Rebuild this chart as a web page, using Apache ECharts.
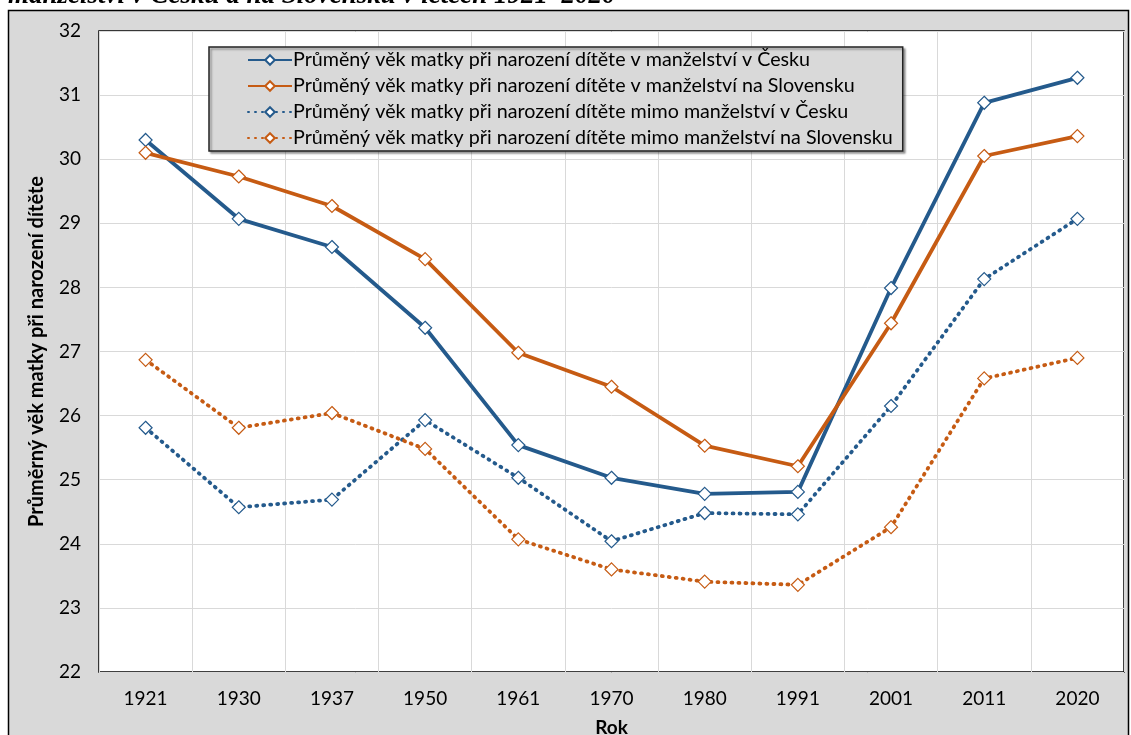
<!DOCTYPE html>
<html>
<head>
<meta charset="utf-8">
<script src="https://cdn.jsdelivr.net/npm/echarts@6/dist/echarts.min.js"></script>
<style>
  html, body { margin: 0; padding: 0; background: #fff; }
  #chart { width: 1131px; height: 735px; }
</style>
</head>
<body>
<div id="chart"></div>
<script>
// roky (kategorie osy x)
const years = ['1921', '1930', '1937', '1950', '1961', '1970', '1980', '1991', '2001', '2011', '2020'];

// průměrný věk matky při narození dítěte
const czMarried   = [30.30, 29.07, 28.63, 27.37, 25.54, 25.03, 24.78, 24.81, 27.99, 30.88, 31.27];
const skMarried   = [30.10, 29.73, 29.27, 28.44, 26.98, 26.45, 25.53, 25.21, 27.44, 30.05, 30.36];
const czUnmarried = [25.81, 24.57, 24.69, 25.93, 25.03, 24.04, 24.48, 24.46, 26.15, 28.13, 29.07];
const skUnmarried = [26.87, 25.81, 26.04, 25.48, 24.07, 23.60, 23.41, 23.36, 24.26, 26.58, 26.90];

const seriesNames = [
  'Průměný věk matky při narození dítěte v manželství v Česku',
  'Průměný věk matky při narození dítěte v manželství na Slovensku',
  'Průměný věk matky při narození dítěte mimo manželství v Česku',
  'Průměný věk matky při narození dítěte mimo manželství na Slovensku'
];

const BLUE = '#245a8c';
const ORANGE = '#c65b13';
const FONT = 'Lato';

function makeSeries(name, data, color, dotted) {
  return {
    name: name,
    type: 'line',
    data: data,
    symbol: 'diamond',
    symbolSize: [13, 13],
    showAllSymbol: true,
    lineStyle: dotted
      ? { color: color, width: 3.8, type: [1, 6], cap: 'round' }
      : { color: color, width: 3.8 },
    itemStyle: { color: '#fff', borderColor: color, borderWidth: 1.2 },
    emphasis: { disabled: true },
    z: dotted ? 2 : 3
  };
}

const chart = echarts.init(document.getElementById('chart'));
chart.setOption({
  animation: false,
  backgroundColor: '#fff',
  graphic: [
    {
      type: 'rect',
      shape: { x: 8.5, y: 10.5, width: 1120, height: 740 },
      style: { fill: '#d9d9d9', stroke: '#000', lineWidth: 1.5 },
      z: -10
    },
    {
      type: 'text',
      left: 8, top: -17,
      style: {
        text: 'manželství v Česku a na Slovensku v letech 1921–2020',
        font: 'italic bold 27px "Liberation Serif"',
        fill: '#000'
      }
    }
  ],
  grid: {
    left: 99, right: 7, top: 31, bottom: 63,
    outerBoundsMode: 'none',
    show: true, backgroundColor: '#fff', borderColor: '#000', borderWidth: 1.5
  },
  legend: {
    orient: 'vertical',
    left: 209, top: 47,
    width: 720,
    backgroundColor: '#d9d9d9',
    borderColor: '#222',
    borderWidth: 1.5,
    shadowColor: 'rgba(0,0,0,0.35)',
    shadowOffsetX: 2, shadowOffsetY: 2, shadowBlur: 2,
    padding: [3, 10, 3, 38],
    itemWidth: 44, itemHeight: 12, itemGap: 6,
    textStyle: { fontFamily: FONT, fontSize: 19.7, color: '#000', padding: [0, 0, 0, -4] },
    data: seriesNames
  },
  xAxis: {
    type: 'category',
    data: years,
    boundaryGap: true,
    name: 'Rok',
    nameLocation: 'middle',
    nameGap: 46,
    nameTextStyle: { fontFamily: FONT, fontSize: 19, fontWeight: 'bold', color: '#000' },
    axisLine: { show: false },
    axisTick: { show: false },
    axisLabel: { fontFamily: FONT, fontSize: 19, color: '#000', margin: 17 },
    splitLine: { show: true, lineStyle: { color: '#d9d9d9', width: 1 } }
  },
  yAxis: {
    type: 'value',
    min: 22, max: 32, interval: 1,
    name: 'Průměrný věk matky při narození dítěte',
    nameLocation: 'middle',
    nameGap: 52,
    nameTextStyle: { fontFamily: FONT, fontSize: 20, fontWeight: 'bold', color: '#000' },
    axisLine: { show: false },
    axisTick: { show: false },
    axisLabel: { fontFamily: FONT, fontSize: 19, color: '#000', margin: 18 },
    splitLine: { show: true, lineStyle: { color: '#d9d9d9', width: 1 } }
  },
  series: [
    makeSeries(seriesNames[0], czMarried, BLUE, false),
    makeSeries(seriesNames[1], skMarried, ORANGE, false),
    makeSeries(seriesNames[2], czUnmarried, BLUE, true),
    makeSeries(seriesNames[3], skUnmarried, ORANGE, true)
  ]
});
</script>
</body>
</html>
